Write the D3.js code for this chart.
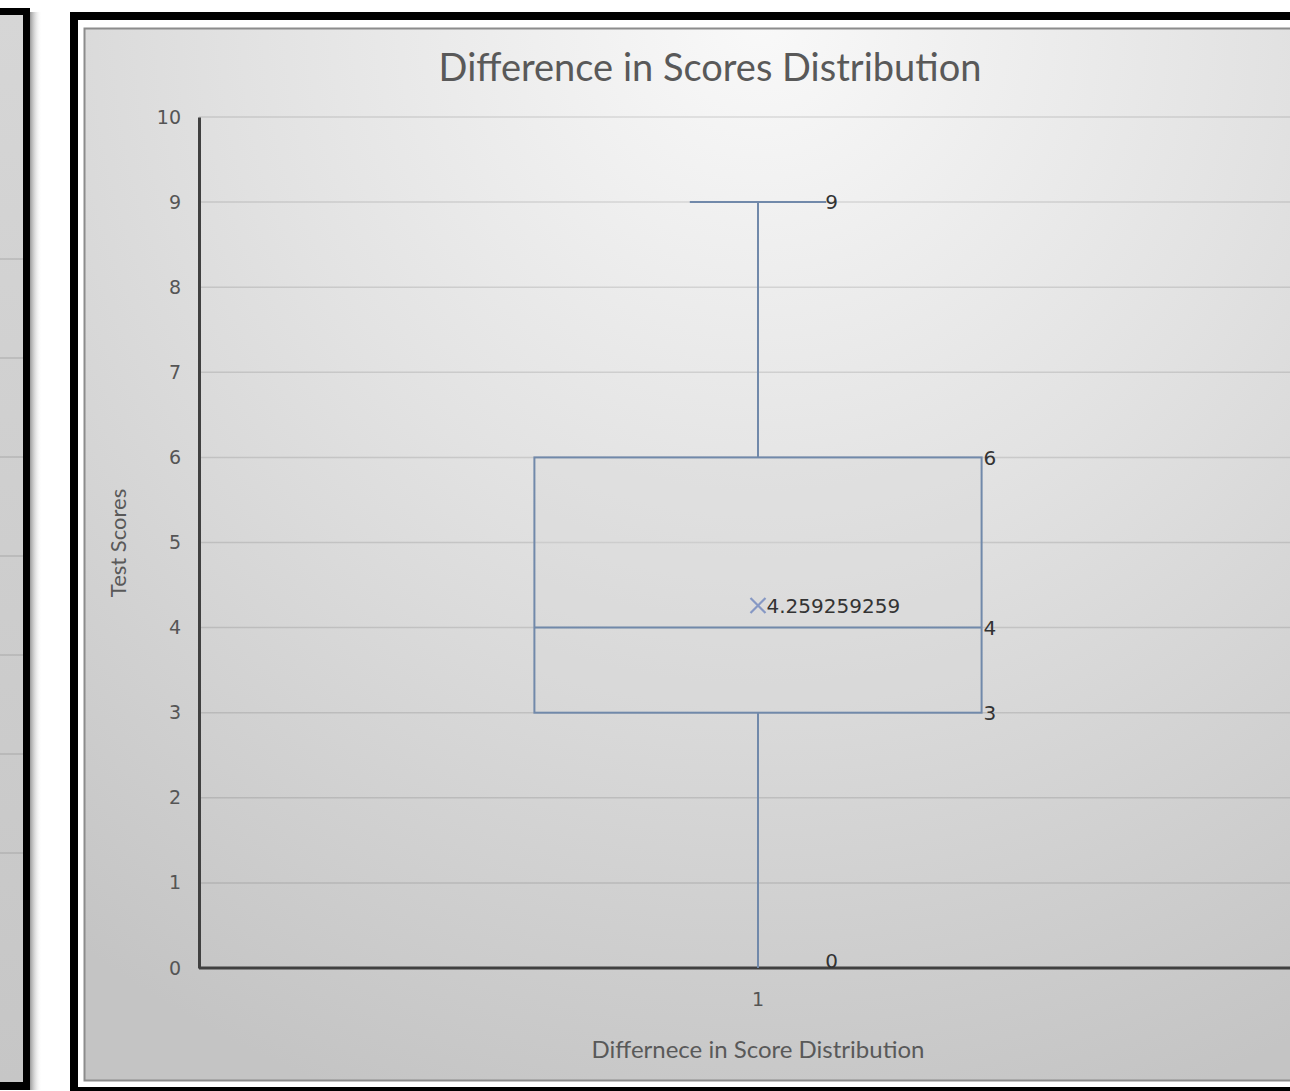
<!DOCTYPE html>
<html>
<head>
<meta charset="utf-8">
<script src="https://cdn.jsdelivr.net/npm/d3@7"></script>
<style>
  html, body { margin: 0; padding: 0; background: #fff; }
  svg { display: block; }
</style>
</head>
<body>
<script>
// box plot stats
const categories = ["1"];
const minVals = [0];
const q1Vals = [3];
const medianVals = [4];
const q3Vals = [6];
const maxVals = [9];
const meanVals = [4.259259259];
const yTicks = [0, 1, 2, 3, 4, 5, 6, 7, 8, 9, 10];
const leftPanelGrid = [1, 2, 3, 4, 5, 6, 7];

const titleText = "Difference in Scores Distribution";
const yTitle = "Test Scores";
const xTitle = "Differnece in Score Distribution";

const width = 1290, height = 1091;
const svg = d3.select("body").append("svg")
    .attr("width", width)
    .attr("height", height);

const defs = svg.append("defs");
const bg = defs.append("radialGradient")
    .attr("id", "bg")
    .attr("gradientUnits", "userSpaceOnUse")
    .attr("cx", 760).attr("cy", 20).attr("r", 1150);
bg.append("stop").attr("offset", "0").attr("stop-color", "#f9f9f9");
bg.append("stop").attr("offset", "0.45").attr("stop-color", "#e2e2e2");
bg.append("stop").attr("offset", "1").attr("stop-color", "#c4c4c4");

const leftBg = defs.append("linearGradient")
    .attr("id", "leftbg").attr("x1", 0).attr("y1", 0).attr("x2", 0).attr("y2", 1);
leftBg.append("stop").attr("offset", "0").attr("stop-color", "#d6d6d6");
leftBg.append("stop").attr("offset", "1").attr("stop-color", "#c6c6c6");

const shadow = defs.append("linearGradient")
    .attr("id", "shadow").attr("x1", 0).attr("y1", 0).attr("x2", 1).attr("y2", 0);
shadow.append("stop").attr("offset", "0").attr("stop-color", "#9a9a9a");
shadow.append("stop").attr("offset", "1").attr("stop-color", "#ffffff").attr("stop-opacity", 0);

// ---- left (cut off) panel ----
svg.append("rect").attr("x", 30).attr("y", 12).attr("width", 12).attr("height", 1078)
    .attr("fill", "url(#shadow)");
svg.append("rect").attr("x", -10).attr("y", 8).attr("width", 40).attr("height", 1082)
    .attr("fill", "#000");
svg.append("rect").attr("x", -10).attr("y", 15).attr("width", 33).attr("height", 1067)
    .attr("fill", "url(#leftbg)");
const leftY = d3.scaleLinear().domain([0, 8]).range([952, 160]);
svg.append("g").selectAll("line")
    .data(leftPanelGrid)
    .join("line")
    .attr("x1", 0).attr("x2", 23)
    .attr("y1", d => leftY(d)).attr("y2", d => leftY(d))
    .attr("stroke", "#9a9a9a").attr("stroke-opacity", 0.45).attr("stroke-width", 1.5);

// ---- main panel frame ----
svg.append("rect").attr("x", 70).attr("y", 12).attr("width", 1300).attr("height", 1100)
    .attr("fill", "#000");
svg.append("rect").attr("x", 78).attr("y", 20).attr("width", 1300).attr("height", 1067)
    .attr("fill", "#fff");
svg.append("rect").attr("x", 84.5).attr("y", 28.5).attr("width", 1300).attr("height", 1052)
    .attr("fill", "url(#bg)")
    .attr("stroke", "#8c8c8c").attr("stroke-width", 2);

// ---- scales ----
const plotLeft = 199, plotRight = 1317;
const x = d3.scaleBand().domain(categories).range([plotLeft, plotRight]);
const y = d3.scaleLinear().domain([0, 10]).range([968, 117]);

const g = svg.append("g");

// gridlines
g.append("g").selectAll("line")
    .data(yTicks.filter(d => d > 0))
    .join("line")
    .attr("x1", plotLeft).attr("x2", width)
    .attr("y1", d => y(d)).attr("y2", d => y(d))
    .attr("stroke", "#000").attr("stroke-opacity", 0.11).attr("stroke-width", 1.5);

// y axis
const yAxis = g.append("g")
    .attr("transform", `translate(${plotLeft},0)`)
    .call(d3.axisLeft(y).tickValues(yTicks).tickSize(0).tickPadding(18));
yAxis.select(".domain").attr("stroke", "#404040").attr("stroke-width", 3);
yAxis.selectAll("text")
    .attr("font-family", "DejaVu Sans").attr("font-size", 19)
    .attr("fill", "#555555");

// x axis
const xAxis = g.append("g")
    .attr("transform", `translate(0,${y(0)})`)
    .call(d3.axisBottom(x).tickSize(0).tickPadding(25));
xAxis.select(".domain").attr("d", `M${plotLeft},0H${width}`)
    .attr("stroke", "#404040").attr("stroke-width", 3);
xAxis.selectAll("text")
    .attr("font-family", "DejaVu Sans").attr("font-size", 19)
    .attr("fill", "#555555");

// ---- box plot ----
const boxColor = "#7189aa";
const boxW = x.bandwidth() * 0.4;
const capW = x.bandwidth() * 0.122;
const stats = categories.map((c, i) => ({
    cat: c, min: minVals[i], q1: q1Vals[i], med: medianVals[i],
    q3: q3Vals[i], max: maxVals[i], mean: meanVals[i]
}));

const box = g.append("g").selectAll("g")
    .data(stats)
    .join("g");

const cx = d => x(d.cat) + x.bandwidth() / 2;

// whiskers
box.append("line")
    .attr("x1", cx).attr("x2", cx)
    .attr("y1", d => y(d.q3)).attr("y2", d => y(d.max))
    .attr("stroke", boxColor).attr("stroke-width", 2);
box.append("line")
    .attr("x1", cx).attr("x2", cx)
    .attr("y1", d => y(d.q1)).attr("y2", d => y(d.min))
    .attr("stroke", boxColor).attr("stroke-width", 2);
box.append("line")
    .attr("x1", d => cx(d) - capW / 2).attr("x2", d => cx(d) + capW / 2)
    .attr("y1", d => y(d.max)).attr("y2", d => y(d.max))
    .attr("stroke", boxColor).attr("stroke-width", 2);

// box
box.append("rect")
    .attr("x", d => cx(d) - boxW / 2)
    .attr("y", d => y(d.q3))
    .attr("width", boxW)
    .attr("height", d => y(d.q1) - y(d.q3))
    .attr("fill", "#d8d8d8").attr("fill-opacity", 0.35)
    .attr("stroke", boxColor).attr("stroke-width", 2);
box.append("line")
    .attr("x1", d => cx(d) - boxW / 2).attr("x2", d => cx(d) + boxW / 2)
    .attr("y1", d => y(d.med)).attr("y2", d => y(d.med))
    .attr("stroke", boxColor).attr("stroke-width", 2);

// mean marker
const mk = 7.5;
box.append("path")
    .attr("d", d => {
        const px = cx(d), py = y(d.mean);
        return `M${px - mk},${py - mk}L${px + mk},${py + mk}M${px - mk},${py + mk}L${px + mk},${py - mk}`;
    })
    .attr("stroke", "#8698c4").attr("stroke-width", 2.2).attr("fill", "none");

// data labels
const lblFont = { family: "DejaVu Sans", size: 20, color: "#333333" };
function label(sel, xf, yf, tf) {
    sel.append("text")
        .attr("x", xf).attr("y", yf)
        .attr("dy", "0.36em")
        .attr("font-family", lblFont.family)
        .attr("font-size", lblFont.size)
        .attr("fill", lblFont.color)
        .text(tf);
}
label(box, d => cx(d) + capW / 2 - 1, d => y(d.max), d => d.max);
label(box, d => cx(d) + boxW / 2 + 2, d => y(d.q3), d => d.q3);
label(box, d => cx(d) + boxW / 2 + 2, d => y(d.med), d => d.med);
label(box, d => cx(d) + boxW / 2 + 2, d => y(d.q1), d => d.q1);
label(box, d => cx(d) + capW / 2 - 1, d => y(d.min) - 7, d => d.min);
label(box, d => cx(d) + mk + 1, d => y(d.mean), d => d.mean);

// ---- titles ----
svg.append("text")
    .attr("x", 710).attr("y", 81)
    .attr("text-anchor", "middle")
    .attr("font-family", "Lato").attr("font-size", 38)
    .attr("fill", "#595959")
    .text(titleText);

svg.append("text")
    .attr("transform", "translate(126,543) rotate(-90)")
    .attr("text-anchor", "middle")
    .attr("font-family", "Lato").attr("font-size", 22)
    .attr("fill", "#595959")
    .text(yTitle);

svg.append("text")
    .attr("x", x(categories[0]) + x.bandwidth() / 2).attr("y", 1058)
    .attr("text-anchor", "middle")
    .attr("font-family", "Lato").attr("font-size", 24)
    .attr("fill", "#595959")
    .text(xTitle);
</script>
</body>
</html>
